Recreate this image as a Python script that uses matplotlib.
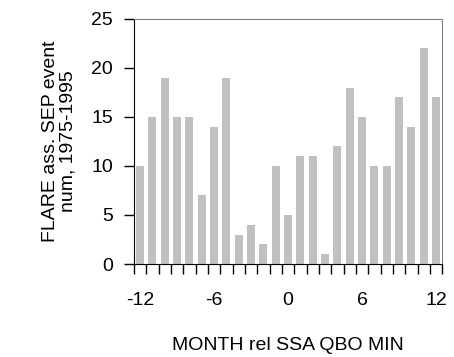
import numpy as np
import matplotlib.pyplot as plt

plt.rcParams['font.family'] = ['Liberation Sans', 'DejaVu Sans']
plt.rcParams['axes.unicode_minus'] = False

months = list(range(-12, 13))
counts = [10, 15, 19, 15, 15, 7, 14, 19, 3, 4, 2, 10, 5, 11, 11, 1, 12, 18, 15, 10, 10, 17, 14, 22, 17]
tick_months = [-12, -6, 0, 6, 12]

fig = plt.figure(figsize=(4.54, 3.57), dpi=100)
ax = fig.add_axes([0.295, 0.2605, 0.679, 0.6865])

ax.bar(months, counts, width=0.66, color='#c0c0c0')
ax.set_xlim(months[0] - 0.5, months[-1] + 0.5)
ax.set_ylim(0, 25)
ax.set_yticks(range(0, 26, 5))
ax.set_xticks(tick_months)
ax.set_xticks(np.arange(months[0] - 0.5, months[-1] + 1, 1), minor=True)
ax.tick_params(axis='x', which='major', length=0, pad=20.5, labelsize=14)
ax.tick_params(axis='x', which='minor', length=7, width=1, direction='out')
ax.tick_params(axis='y', length=7, width=1, direction='out', labelsize=14, pad=8)

for s in ['top', 'right']:
    ax.spines[s].set_color('#808080')
for s in ['left', 'bottom']:
    ax.spines[s].set_color('black')

ax.set_ylabel('FLARE ass. SEP event\nnum, 1975-1995', fontsize=14, labelpad=11,
              linespacing=1.0)
ax.set_xlabel('MONTH rel SSA QBO MIN', fontsize=14, labelpad=20)

fig.savefig('out.png', dpi=100)
